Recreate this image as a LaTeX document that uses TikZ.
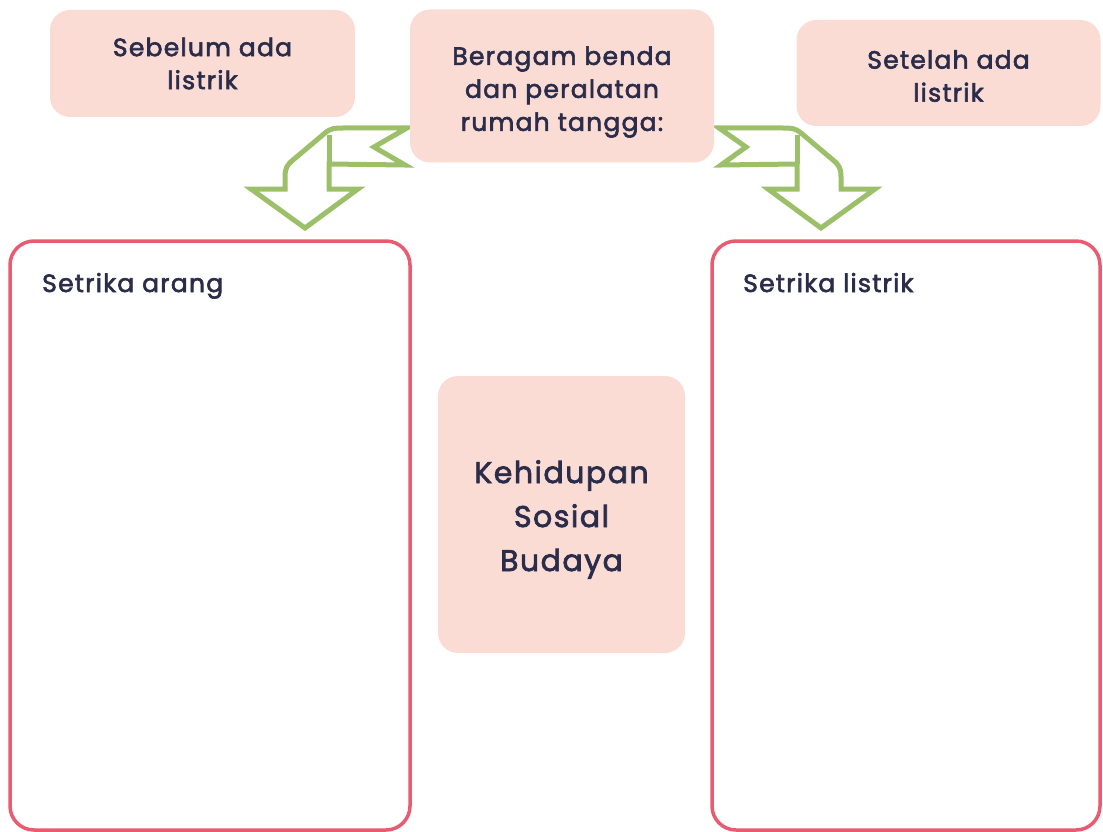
\documentclass[tikz,border=0pt]{standalone}
\usepackage{fontspec}
\setmainfont{Poppins}[LetterSpace=5, FakeBold=2.4]
\definecolor{pinkfill}{HTML}{FADCD5}
\definecolor{redline}{HTML}{E95B70}
\definecolor{leafgreen}{HTML}{9CBF69}
\definecolor{inkblue}{HTML}{2A2C4A}
\tikzset{
  pinkbox/.style={fill=pinkfill, rounded corners=20pt, inner sep=0pt},
  boxtext/.style={align=center, text=inkblue, inner sep=0pt, font=\fontsize{25}{33}\selectfont},
  framebox/.style={draw=redline, line width=3.5pt, rounded corners=24pt, inner sep=0pt},
  boxlabel/.style={anchor=base west, text=inkblue, inner sep=0pt, font=\fontsize{25}{30}\selectfont},
  greenarrow/.style={draw=leafgreen, fill=white, line width=5pt, line join=miter}
}
\begin{document}
\begin{tikzpicture}[x=1pt,y=-1pt]
	\useasboundingbox (0,0) rectangle (1103,832);
	% arrows from the middle box
	\draw[greenarrow] (407,128) -- (374,147) -- (405,165) -- (329,164) -- (329,189) -- (358,189)
	  -- (305,228) -- (251,189) -- (285,189) -- (285,177)
	  .. controls (285,168) and (287,165) .. (293,160) -- (325,133)
	  .. controls (331,128) and (335,128) .. (343,128) -- cycle;
	\draw[leafgreen, line width=5pt] (329,164) -- (329,135);
	\draw[greenarrow] (719,128) -- (746,147) -- (721,165) -- (797,164) -- (797,189) -- (768,189)
	  -- (821,228) -- (875,189) -- (841,189) -- (841,177)
	  .. controls (841,168) and (839,165) .. (833,160) -- (801,133)
	  .. controls (795,128) and (791,128) .. (783,128) -- cycle;
	\draw[leafgreen, line width=5pt] (797,164) -- (797,135);
	% top boxes
	\node[pinkbox, minimum width=305, minimum height=107] (sebelum) at (202.5,63.5) {};
	\node[boxtext] (sebelumtxt) at (sebelum.center) {Sebelum ada\\listrik};
	\node[pinkbox, minimum width=304, minimum height=153] (benda) at (562,86) {};
	\node[boxtext] (bendatxt) at ([yshift=-6pt]benda.center) {Beragam benda\\dan peralatan\\rumah tangga:};
	\node[pinkbox, minimum width=304, minimum height=106] (setelah) at (948.5,73) {};
	\node[boxtext] (setelahtxt) at ([yshift=-3pt]setelah.center) {Setelah ada\\listrik};
	% the two lists
	\node[framebox, minimum width=400, minimum height=589] (kiri) at (210,535.5) {};
	\node[framebox, minimum width=388, minimum height=589] (kanan) at (906,535.5) {};
	\node[boxlabel] (arang) at (42,292) {Setrika arang};
	\node[boxlabel] (listrik) at (743,292) {Setrika listrik};
	% centre
	\node[pinkbox, minimum width=247, minimum height=277] (sosial) at (561.5,514.5) {};
	\node[boxtext, font=\fontsize{30}{44}\selectfont] (sosialtxt) at ([yshift=-5pt]sosial.center) {Kehidupan\\Sosial\\Budaya};
\end{tikzpicture}
\end{document}
